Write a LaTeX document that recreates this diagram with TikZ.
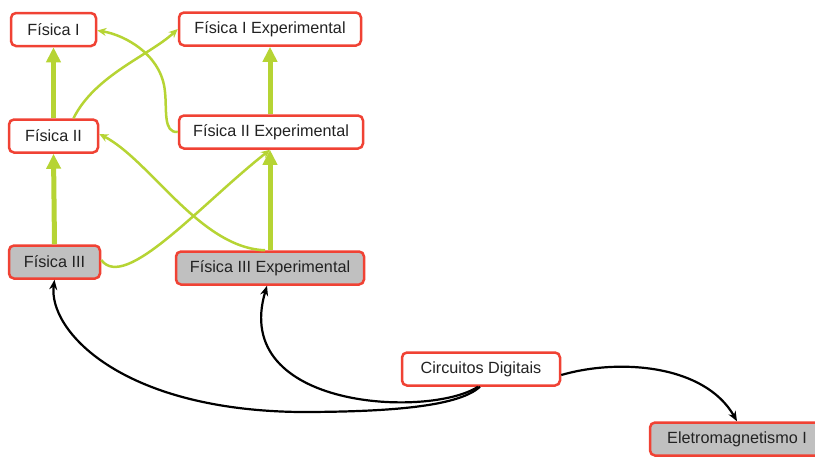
\documentclass[tikz,border=0pt]{standalone}
\usepackage{fontspec}
\setmainfont{Liberation Sans}
\usetikzlibrary{arrows.meta}
\definecolor{boxred}{RGB}{240,66,52}
\definecolor{lgreen}{RGB}{182,212,52}
\definecolor{boxgray}{RGB}{192,192,192}
\definecolor{txt}{RGB}{34,34,34}
\begin{document}
\begin{tikzpicture}[x=1pt,y=-1pt,
  box/.style={draw=boxred, line width=2.5pt, rounded corners=5pt, fill=white,
    text=txt, font=\fontsize{16.2}{19}\selectfont, minimum height=33pt, inner sep=0pt},
  graybox/.style={box, fill=boxgray},
  thick green/.style={draw=lgreen, line width=5pt, -{Triangle[length=15pt,width=14pt]}},
  thin green/.style={draw=lgreen, line width=2.5pt, -{Stealth[length=9pt,width=8pt]}},
  blackarr/.style={draw=black, line width=2.2pt, -{Stealth[length=10pt,width=8pt]}}]
\useasboundingbox (0,0) rectangle (815,456);
\node[box, minimum width=85pt] (f1) at (53.5,29.5) {Física I};
\node[box, minimum width=182pt] (f1e) at (270,29) {Física I Experimental};
\node[box, minimum width=89pt] (f2) at (53.5,136) {Física II};
\node[box, minimum width=184pt] (f2e) at (271,132) {Física II Experimental};
\node[graybox, minimum width=91pt] (f3) at (54.5,262) {Física III};
\node[graybox, minimum width=188pt] (f3e) at (270,268) {Física III Experimental};
\node[box, minimum width=158pt] (cd) at (481,369) {Circuitos Digitais};
\node[graybox, minimum width=174pt] (em) at (737,439) {Eletromagnetismo I};

\draw[thick green] (f2.north) -- (f1.south);
\draw[thick green] (f2e.north -| f1e.south) -- (f1e.south);
\draw[thick green] (f3.north) -- (f2.south);
\draw[thick green] (f3e.north) -- (f3e.north |- f2e.south);

\draw[thin green] ([xshift=20pt]f2.north) .. controls (95,75) and (150,55) .. (f1e.west);
\draw[thin green] (f2e.west) .. controls (163,133) and (167,110) .. (165,92) .. controls (162,55) and (125,35) .. ([yshift=-1pt]f1.east);
\draw[thin green] ([xshift=-5pt]f3e.north) .. controls (200,248) and (150,160) .. ([yshift=2pt]f2.east);
\draw[thin green] ([yshift=2pt]f3.east) .. controls (125,292) and (200,205) .. (f3e.north |- f2e.south);

\draw[blackarr] ([xshift=-1pt]cd.south) .. controls (460,405) and (400,412) .. (300,412) .. controls (120,410) and (48,330) .. (f3.south);
\draw[blackarr] ([xshift=-3pt]cd.south) .. controls (430,418) and (230,410) .. ([xshift=-3pt]f3e.south);
\draw[blackarr] ([yshift=-6pt]cd.east) .. controls (620,358) and (705,365) .. (em.north);
\end{tikzpicture}
\end{document}
